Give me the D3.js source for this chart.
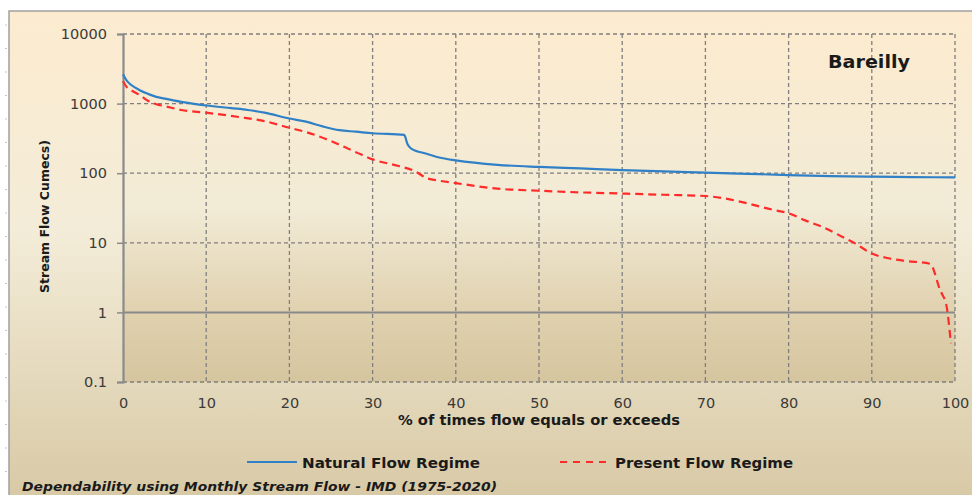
<!DOCTYPE html>
<html>
<head>
<meta charset="utf-8">
<script src="https://cdn.jsdelivr.net/npm/d3@7"></script>
<style>
  body { margin: 0; background: #ffffff; }
  svg { display: block; }
</style>
</head>
<body>
<div id="canvas"></div>
<script>
"use strict"

/* data */
let naturalPct = [0, 0.5, 1, 2, 3, 4, 5, 7, 10, 13, 15, 17, 20, 22, 24, 26, 28, 30, 33.8, 34.2, 34.6, 36.5, 38, 40, 45, 50, 55, 60, 65, 70, 75, 80, 85, 90, 95, 100];
let naturalFlow = [2650, 2100, 1850, 1560, 1380, 1250, 1180, 1060, 940, 860, 810, 740, 610, 550, 470, 415, 395, 375, 355, 260, 228, 190, 168, 153, 132, 123, 117, 111, 106, 102, 98, 94, 91, 89, 88, 87];

let presentPct = [0, 0.5, 1, 2, 3, 4, 5, 7, 10, 14, 17, 20, 22, 25, 28, 30, 33, 35, 36.5, 38, 40, 45, 50, 55, 60, 65, 70, 72, 75, 78, 80, 82, 84, 86, 88, 90, 92, 94, 97, 98.2, 99, 99.5];
let presentFlow = [2100, 1700, 1550, 1330, 1100, 980, 920, 810, 740, 640, 560, 450, 390, 290, 200, 158, 128, 108, 85, 78, 72, 60, 56, 53, 51, 49, 47, 44, 37, 30, 26.5, 21, 17, 13, 9.8, 7, 6, 5.5, 5, 2.1, 1.2, 0.36];

let xTicks = [0, 10, 20, 30, 40, 50, 60, 70, 80, 90, 100];
let yTicks = [0.1, 1, 10, 100, 1000, 10000];
let seriesNames = ["Natural Flow Regime", "Present Flow Regime"];

/* canvas */
let drawing = d3.select("#canvas")
    .append("svg")
    .attr("width", 972)
    .attr("height", 495);

let defs = drawing.append("defs");

let outerGrad = defs.append("linearGradient")
    .attr("id", "outerGrad")
    .attr("x1", 0).attr("y1", 0).attr("x2", 0).attr("y2", 1);
outerGrad.append("stop").attr("offset", 0).attr("stop-color", "#fcebcf");
outerGrad.append("stop").attr("offset", 0.45).attr("stop-color", "#f3ecd8");
outerGrad.append("stop").attr("offset", 1).attr("stop-color", "#d8c9a5");

let plotGrad = defs.append("linearGradient")
    .attr("id", "plotGrad")
    .attr("x1", 0).attr("y1", 0).attr("x2", 0).attr("y2", 1);
plotGrad.append("stop").attr("offset", 0).attr("stop-color", "#fcebcf");
plotGrad.append("stop").attr("offset", 0.5).attr("stop-color", "#f2ebd6");
plotGrad.append("stop").attr("offset", 0.8).attr("stop-color", "#e0d1af");
plotGrad.append("stop").attr("offset", 1).attr("stop-color", "#d5c59f");

// outer chart area
drawing.append("rect")
    .attr("x", 9)
    .attr("y", 11)
    .attr("width", 970)
    .attr("height", 490)
    .attr("fill", "url(#outerGrad)")
    .attr("stroke", "#a0a0a0")
    .attr("stroke-width", 1.5);

// little ruler marks in the white margin
let marks = d3.range(25, 495, 23.5);
drawing.selectAll(".mark")
    .data(marks)
    .enter().append("line")
    .attr("x1", 5).attr("x2", 7)
    .attr("y1", d => d).attr("y2", d => d)
    .attr("stroke", "#c8c8c8");

/* plot area */
let plotLeft = 123, plotRight = 955, plotTop = 34, plotBottom = 382;

let x = d3.scaleLinear().domain([0, 100]).range([plotLeft, plotRight]);
let y = d3.scaleLog().domain([0.1, 10000]).range([plotBottom, plotTop]);

drawing.append("rect")
    .attr("x", plotLeft)
    .attr("y", plotTop)
    .attr("width", plotRight - plotLeft)
    .attr("height", plotBottom - plotTop)
    .attr("fill", "url(#plotGrad)");

// dashed grid
drawing.selectAll(".vgrid")
    .data(xTicks.filter(d => d > 0))
    .enter().append("line")
    .attr("x1", d => x(d)).attr("x2", d => x(d))
    .attr("y1", plotTop).attr("y2", plotBottom)
    .attr("stroke", "#7f7f7f")
    .attr("stroke-width", 1.3)
    .attr("stroke-dasharray", "4,3");

drawing.selectAll(".hgrid")
    .data(yTicks.filter(d => d !== 1))
    .enter().append("line")
    .attr("x1", plotLeft).attr("x2", plotRight)
    .attr("y1", d => y(d)).attr("y2", d => y(d))
    .attr("stroke", "#7f7f7f")
    .attr("stroke-width", 1.3)
    .attr("stroke-dasharray", "4,3");

// axes lines (x axis crosses at 1)
drawing.append("line")
    .attr("x1", plotLeft).attr("x2", plotRight)
    .attr("y1", y(1)).attr("y2", y(1))
    .attr("stroke", "#8a8a8a")
    .attr("stroke-width", 2);

let yAxis = d3.axisLeft(y)
    .tickValues(yTicks)
    .tickFormat(d => String(d))
    .tickSize(6)
    .tickPadding(10);

let yAxisG = drawing.append("g")
    .attr("transform", "translate(" + plotLeft + ",0)")
    .call(yAxis);
yAxisG.select(".domain").attr("stroke", "#8a8a8a").attr("stroke-width", 2.2);
yAxisG.selectAll(".tick line").attr("stroke", "#8a8a8a").attr("stroke-width", 1.5);
yAxisG.selectAll(".tick text")
    .attr("fill", "#3a3a3a")
    .style("font-family", "'DejaVu Sans', sans-serif")
    .style("font-size", "14.5px");

let xAxis = d3.axisBottom(x)
    .tickValues(xTicks)
    .tickSize(0)
    .tickPadding(10);

let xAxisG = drawing.append("g")
    .attr("transform", "translate(0," + (plotBottom + 6) + ")")
    .call(xAxis);
xAxisG.select(".domain").remove();
xAxisG.selectAll(".tick text")
    .attr("fill", "#3a3a3a")
    .style("font-family", "'DejaVu Sans', sans-serif")
    .style("font-size", "14.5px");

/* series */
let natural = naturalPct.map((p, i) => [p, naturalFlow[i]]);
let present = presentPct.map((p, i) => [p, presentFlow[i]]);

let line = d3.line()
    .x(d => x(d[0]))
    .y(d => y(d[1]))
    .curve(d3.curveMonotoneX);

drawing.append("path")
    .attr("d", line(natural))
    .attr("fill", "none")
    .attr("stroke", "#2f80c6")
    .attr("stroke-width", 2.2);

drawing.append("path")
    .attr("d", line(present))
    .attr("fill", "none")
    .attr("stroke", "#ff2a2a")
    .attr("stroke-width", 2.2)
    .attr("stroke-dasharray", "8,5");

/* texts */
drawing.append("text")
    .attr("x", 828)
    .attr("y", 68)
    .attr("fill", "#1a1a1a")
    .attr("textLength", 82)
    .attr("lengthAdjust", "spacingAndGlyphs")
    .style("font-family", "'DejaVu Sans', sans-serif")
    .style("font-weight", "bold")
    .style("font-size", "18px")
    .text("Bareilly");

drawing.append("text")
    .attr("transform", "translate(49,293) rotate(-90)")
    .attr("fill", "#1a1a1a")
    .attr("textLength", 153)
    .attr("lengthAdjust", "spacingAndGlyphs")
    .style("font-family", "'DejaVu Sans', sans-serif")
    .style("font-weight", "bold")
    .style("font-size", "13px")
    .text("Stream Flow Cumecs)");

drawing.append("text")
    .attr("x", 398)
    .attr("y", 425)
    .attr("fill", "#1a1a1a")
    .attr("textLength", 282)
    .attr("lengthAdjust", "spacingAndGlyphs")
    .style("font-family", "'DejaVu Sans', sans-serif")
    .style("font-weight", "bold")
    .style("font-size", "14px")
    .text("%  of times flow equals or exceeds");

// legend
let legendItems = [
    { name: seriesNames[0], x1: 247, color: "#2f80c6", dash: null },
    { name: seriesNames[1], x1: 560, color: "#ff2a2a", dash: "7,6" }
];

legendItems.forEach(function (item) {
    drawing.append("line")
        .attr("x1", item.x1).attr("x2", item.x1 + 50)
        .attr("y1", 462).attr("y2", 462)
        .attr("stroke", item.color)
        .attr("stroke-width", 2)
        .attr("stroke-dasharray", item.dash);
    drawing.append("text")
        .attr("x", item.x1 + 55)
        .attr("y", 468)
        .attr("fill", "#1a1a1a")
        .attr("textLength", 178)
        .attr("lengthAdjust", "spacingAndGlyphs")
        .style("font-family", "'DejaVu Sans', sans-serif")
        .style("font-weight", "bold")
        .style("font-size", "14.5px")
        .text(item.name);
});

drawing.append("text")
    .attr("x", 22)
    .attr("y", 491)
    .attr("fill", "#1a1a1a")
    .attr("textLength", 475)
    .attr("lengthAdjust", "spacingAndGlyphs")
    .style("font-family", "'DejaVu Sans', sans-serif")
    .style("font-weight", "bold")
    .style("font-style", "italic")
    .style("font-size", "12.5px")
    .text("Dependability using Monthly Stream Flow - IMD (1975-2020)");
</script>
</body>
</html>
